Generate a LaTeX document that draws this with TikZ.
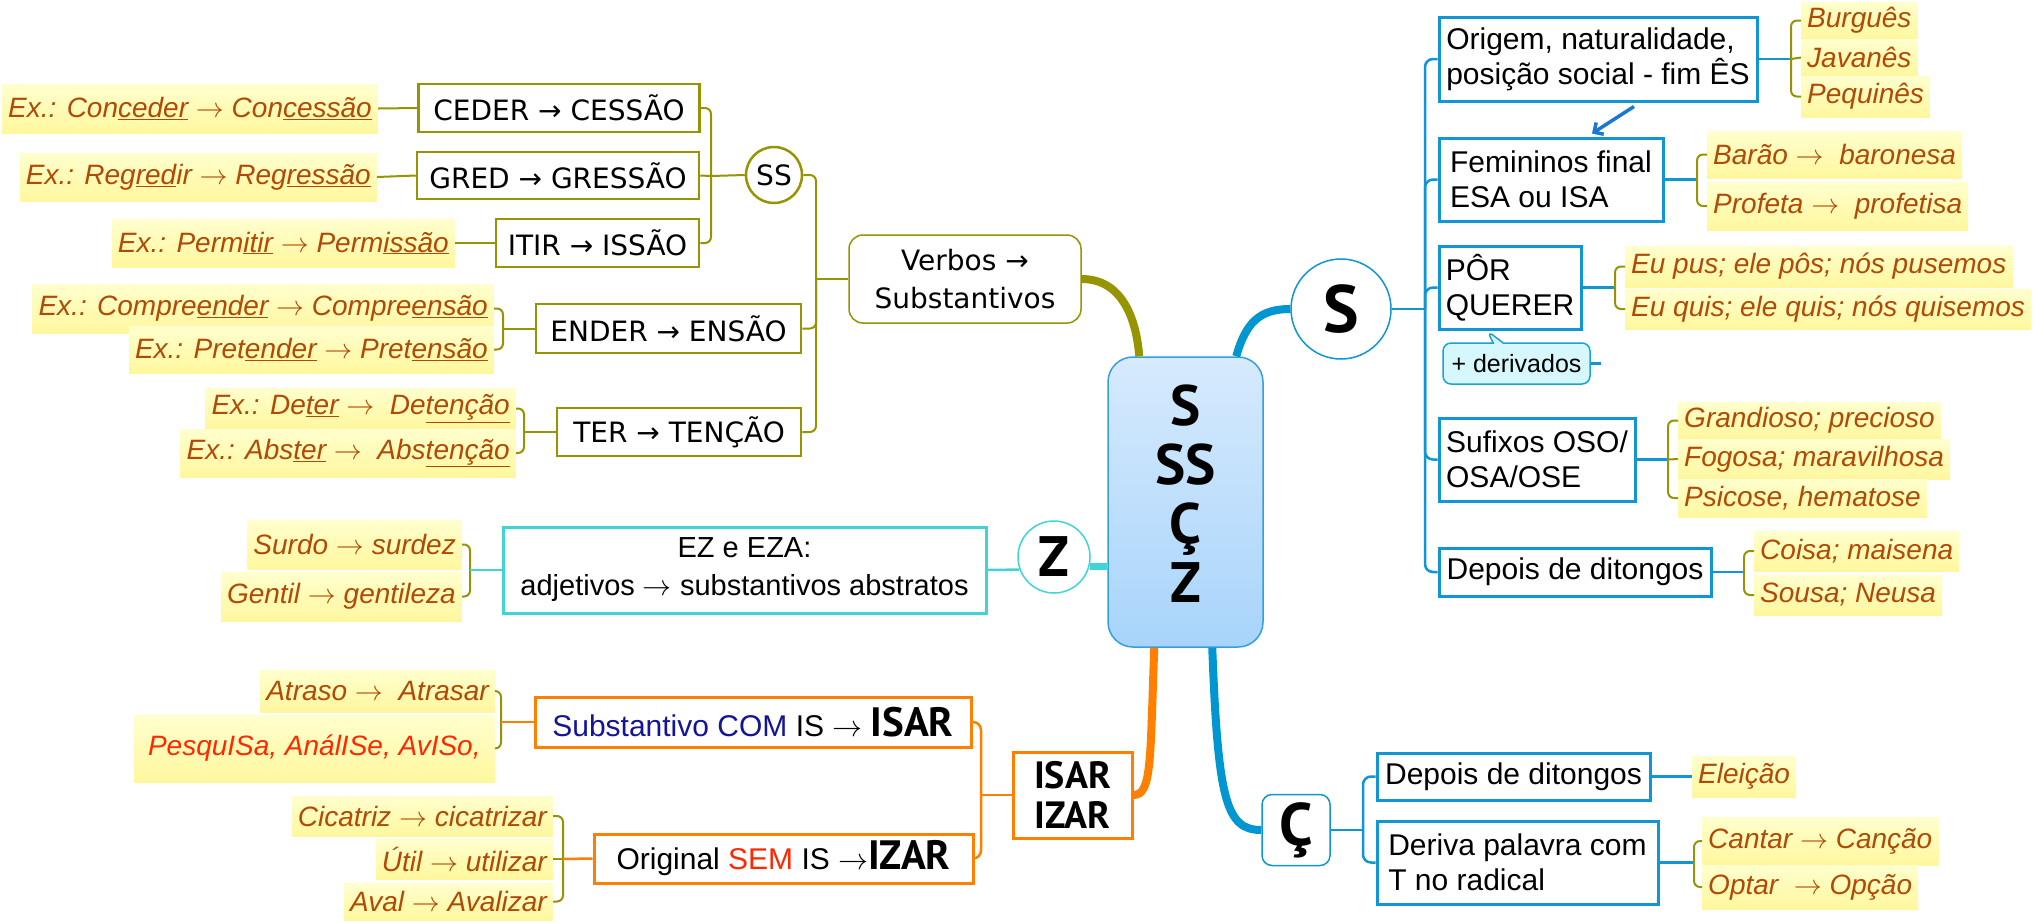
\RequirePackage{fix-cm}
\documentclass[tikz,border=0pt]{standalone}
\usepackage{fontspec}
\setmainfont{Liberation Sans}
\newfontfamily\dvs{DejaVu Sans}
\newfontfamily\pts{PT Sans}
\usetikzlibrary{arrows.meta,shapes.callouts,calc}
\definecolor{olv}{RGB}{150,148,0}
\definecolor{blu}{RGB}{16,150,210}
\definecolor{bbr}{RGB}{0,150,210}
\definecolor{cya}{RGB}{64,212,214}
\definecolor{orng}{RGB}{255,128,0}
\definecolor{exc}{RGB}{176,74,6}
\definecolor{hlt}{RGB}{255,255,206}
\definecolor{hlb}{RGB}{255,247,158}
\definecolor{redt}{RGB}{255,40,0}
\definecolor{navyt}{RGB}{20,20,150}
\definecolor{ctop}{RGB}{214,234,253}
\definecolor{cbot}{RGB}{168,212,251}
\definecolor{cbr}{RGB}{50,160,220}
\definecolor{arb}{RGB}{24,120,210}
\definecolor{derf}{RGB}{214,248,252}
\newcommand\fs[2]{\fontsize{#1}{#2}\selectfont}
\newcommand\myra{$\rightarrow$}
\begin{document}
\begin{tikzpicture}[x=1pt,y=-1pt,
  exn/.style={top color=hlt,bottom color=hlb,draw=none,text=exc,font=\fs{28}{32}\itshape,inner xsep=6pt,inner ysep=0pt,minimum height=#1},
  exn/.default=40,
  olbox/.style={draw=olv,line width=2.5pt,font=\dvs\fs{28}{34},inner sep=0pt},
  bluebox/.style={draw=blu,line width=3pt,font=\fs{30}{35},align=left,inner sep=0pt},
  orbox/.style={draw=orng,line width=3pt,font=\fs{30}{35},inner sep=0pt},
  oline/.style={olv,line width=2pt,rounded corners=6pt},
  bline/.style={blu,line width=2.5pt,rounded corners=8pt},
  orline/.style={orng,line width=2.5pt,rounded corners=8pt},
  cyline/.style={cya,line width=2.5pt},
  thick branch/.style={line width=8pt}
]
\useasboundingbox (0,0) rectangle (2042,922);
\fill[white] (0,0) rectangle (2042,922);

% ---------- central ----------
\node[draw=cbr,line width=1.5pt,rounded corners=25pt,top color=ctop,bottom color=cbot,
  minimum width=155,minimum height=290,inner sep=0pt] (ctr) at (1185.5,502)
  {\pts\bfseries\fs{57}{59}\begin{tabular}{@{}c@{}}S\\SS\\Ç\\Z\end{tabular}};

% ---------- left olive group ----------
\node[olbox,minimum width=281,minimum height=48] (ceder) at (559,108) {CEDER → CESSÃO};
\node[olbox,minimum width=282,minimum height=47] (gred) at (558,175.5) {GRED → GRESSÃO};
\node[olbox,minimum width=203,minimum height=48] (itir) at (597.5,243) {ITIR → ISSÃO};
\node[olbox,minimum width=265,minimum height=49] (ender) at (668.5,328.5) {ENDER → ENSÃO};
\node[olbox,minimum width=244,minimum height=48] (ter) at (679,432) {TER → TENÇÃO};
\node[circle,draw=olv,line width=2.5pt,minimum size=56,inner sep=0pt,font=\dvs\fs{28}{34}] (ss) at (774,175) {SS};
\node[draw=olv,line width=1.5pt,rounded corners=14pt,minimum width=232,minimum height=88,
  align=center,inner sep=0pt,font=\dvs\fs{28}{38}] (verb) at (965,279) {Verbos →\\Substantivos};

\node[exn=49,anchor=east] (exconc) at (378,108.5) {Ex.: Con\underline{ceder} \myra{} Con\underline{cessão}};
\node[exn=48,anchor=east] (exreg) at (377,177) {Ex.: Reg\underline{red}ir \myra{} Reg\underline{ressão}};
\node[exn=48,anchor=east] (experm) at (455,243) {Ex.: Perm\underline{itir} \myra{} Perm\underline{issão}};
\node[exn=49,anchor=east] (excomp) at (494,308.5) {Ex.: Compre\underline{ender} \myra{} Compre\underline{ensão}};
\node[exn=47,anchor=east] (expret) at (494,349.5) {Ex.: Pret\underline{ender} \myra{} Pret\underline{ensão}};
\node[exn=41,anchor=east] (exdet) at (516,408.5) {Ex.: De\underline{ter} \myra{} \ De\underline{tenção}};
\node[exn=48,anchor=east] (exabs) at (516,453) {Ex.: Abs\underline{ter} \myra{} \ Abs\underline{tenção}};

\coordinate (jss) at (711,176);
\coordinate (jv) at (816,279);
\coordinate (je) at (503,328.5);
\coordinate (jt) at (524,432);
\draw[oline] (ceder.east) -| (jss);
\draw[oline] (gred.east) -- (jss);
\draw[oline] (itir.east) -| (jss);
\draw[oline] (jss) -- (ss.west);
\draw[oline] (ss.east) -| (jv);
\draw[oline] (ender.east) -| (jv);
\draw[oline] (ter.east) -| (jv);
\draw[oline] (jv) -- (verb.west);
\draw[oline] (exconc.east) -- (ceder.west);
\draw[oline] (exreg.east) -- (gred.west);
\draw[oline] (experm.east) -- (itir.west);
\draw[oline] (excomp.east) -| (je) |- (expret.east);
\draw[oline] (je) -- (ender.west);
\draw[oline] (exdet.east) -| (jt) |- (exabs.east);
\draw[oline] (jt) -- (ter.west);

% ---------- Z group ----------
\node[circle,draw=cya,line width=1.5pt,minimum size=72,inner sep=0pt] (zc) at (1054,557)
  {\pts\bfseries\fs{57}{60}Z};
\node[draw=cya,line width=3pt,minimum width=483,minimum height=86,align=center,inner sep=0pt,
  font=\fs{29}{38}] (ez) at (744.5,570) {EZ e EZA:\\adjetivos \myra{} substantivos abstratos};
\node[exn=49,anchor=east] (exsur) at (462,544.5) {Surdo \myra{} surdez};
\node[exn=49,anchor=east] (exgen) at (462,596.5) {Gentil \myra{} gentileza};
\coordinate (jz) at (470,570);
\draw[oline] (exsur.east) -| (jz) |- (exgen.east);
\draw[cyline] (jz) -- (ez.west);
\draw[cyline] (ez.east) -- (zc.200);

% ---------- orange group ----------
\node[draw=orng,line width=3pt,minimum width=119,minimum height=86,align=center,inner sep=0pt,
  font=\pts\bfseries\fs{38}{40}] (isar) at (1072.5,795) {ISAR\\IZAR};
\node[orbox,minimum width=436,minimum height=50] (subs) at (753,722)
  {{\color{navyt}Substantivo COM} IS \myra{} {\pts\bfseries\fs{41}{41}ISAR}};
\node[orbox,minimum width=379,minimum height=49] (orig) at (783.5,858.5)
  {Original {\color{redt}SEM} IS \myra{\pts\bfseries\fs{41}{41}IZAR}};
\node[exn=42,anchor=east] (exatr) at (495,691) {Atraso \myra{} \ Atrasar};
\node[exn=67,anchor=east,text=redt,minimum width=361] (expesq) at (495,748.5) {PesquISa, AnálISe, AvISo,};
\node[exn=40,anchor=east] (excic) at (553,816) {Cicatriz \myra{} cicatrizar};
\node[exn=40,anchor=east] (exutil) at (553,859) {Útil \myra{} utilizar};
\node[exn=37,anchor=east] (exaval) at (553,901.5) {Aval \myra{} Avalizar};
\coordinate (jo) at (981,795);
\coordinate (ja) at (501,722);
\coordinate (jci) at (563,859);
\draw[orline] (subs.east) -| (jo);
\draw[orline] (orig.east) -| (jo);
\draw[orline] (jo) -- (isar.west);
\draw[oline] (exatr.east) -| (ja) |- (expesq.east);
\draw[orline] (ja) -- (subs.west);
\draw[oline] (excic.east) -| (jci) |- (exaval.east);
\draw[oline] (exutil.east) -- (jci);
\draw[orline] (jci) -- (orig.west);

% ---------- right S group ----------
\node[circle,draw=blu,line width=1.5pt,minimum size=100,inner sep=0pt] (sc) at (1341,309)
  {\pts\bfseries\fs{67}{70}S};
\node[bluebox,minimum width=318,minimum height=84] (orgn) at (1598,59) {Origem, naturalidade,\\posição social - fim ÊS};
\node[bluebox,minimum width=224,minimum height=83] (fem) at (1551,179.5) {Femininos final\\ESA ou ISA};
\node[bluebox,minimum width=142,minimum height=83] (por) at (1510,287.5) {PÔR\\QUERER};
\node[rectangle callout,draw=blu!80!cya,line width=1.5pt,fill=derf,rounded corners=8pt,
  minimum width=147,minimum height=41,inner sep=0pt,font=\fs{25}{30},
  callout absolute pointer={($(por.south)+(-23,0)$)},callout pointer width=10pt] (der) at (1516.5,363.5) {+ derivados};
\node[bluebox,minimum width=196,minimum height=83] (suf) at (1537,459.5) {Sufixos OSO/\\OSA/OSE};
\node[bluebox,minimum width=272,minimum height=48] (dep1) at (1575,572) {Depois de ditongos};

\node[exn=37,anchor=west] (exbur) at (1801,20.5) {Burguês};
\node[exn=37,anchor=west] (exjav) at (1801,57.5) {Javanês};
\node[exn=41,anchor=west] (expeq) at (1801,96.5) {Pequinês};
\node[exn=47,anchor=west] (exbar) at (1707,154.5) {Barão \myra{} \ baronesa};
\node[exn=48,anchor=west] (expro) at (1707,206) {Profeta \myra{} \ profetisa};
\node[exn=41,anchor=west] (expus) at (1625,266.5) {Eu pus; ele pôs; nós pusemos};
\node[exn=40,anchor=west] (exqui) at (1625,309) {Eu quis; ele quis; nós quisemos};
\node[exn=37,anchor=west] (exgra) at (1678,420.5) {Grandioso; precioso};
\node[exn=40,anchor=west] (exfog) at (1678,459) {Fogosa; maravilhosa};
\node[exn=38,anchor=west] (expsi) at (1678,498) {Psicose, hematose};
\node[exn=40,anchor=west] (excoi) at (1754,551) {Coisa; maisena};
\node[exn=40,anchor=west] (exsou) at (1754,595) {Sousa; Neusa};

\coordinate (js) at (1425,309);
\coordinate (jor) at (1791,59);
\coordinate (jfe) at (1697,179.5);
\coordinate (jpo) at (1615,287.5);
\coordinate (jsu) at (1668,459.5);
\coordinate (jde) at (1744,572);
\draw[bline] (sc.east) -- (js);
\draw[bline] (js) |- (orgn.west);
\draw[bline] (js) |- (fem.west);
\draw[bline] (js) |- (por.west);
\draw[bline] (js) |- (suf.west);
\draw[bline] (js) |- (dep1.west);
\draw[bline] (der.east) -- ++(10,0);
\draw[bline] (orgn.east) -- (jor);
\draw[bline] (fem.east) -- (jfe);
\draw[bline] (por.east) -- (jpo);
\draw[bline] (suf.east) -- (jsu);
\draw[bline] (dep1.east) -- (jde);
\draw[oline] (exbur.west) -| (jor) |- (expeq.west);
\draw[oline] (jor) -- (exjav.west);
\draw[oline] (exbar.west) -| (jfe) |- (expro.west);
\draw[oline] (expus.west) -| (jpo) |- (exqui.west);
\draw[oline] (exgra.west) -| (jsu) |- (expsi.west);
\draw[oline] (jsu) -- (exfog.west);
\draw[oline] (excoi.west) -| (jde) |- (exsou.west);
\draw[arb,line width=3.5pt,-{Straight Barb[length=7pt,width=14pt]}]
  ($(orgn.south)+(36,4)$) -- ($(fem.north)+(41,-3)$);

% ---------- Ç group ----------
\node[draw=blu,line width=1.5pt,rounded corners=10pt,minimum width=68,minimum height=71,inner sep=0pt]
  (cbox) at (1296,830) {\pts\bfseries\fs{60}{60}Ç};
\node[bluebox,minimum width=273,minimum height=47] (dep2) at (1513.5,776.5) {Depois de ditongos};
\node[bluebox,minimum width=281,minimum height=83] (deriva) at (1517.5,862.5) {Deriva palavra com\\T no radical};
\node[exn=41,anchor=west] (exele) at (1692,776.5) {Eleição};
\node[exn=48,anchor=west] (excan) at (1702,841) {Cantar \myra{} Canção};
\node[exn=44,anchor=west] (exopt) at (1702,887) {Optar \ \myra{} Opção};
\coordinate (jc) at (1363,830);
\coordinate (jca) at (1694,862.5);
\draw[bline] (cbox.east) -- (jc);
\draw[bline] (jc) |- (dep2.west);
\draw[bline] (jc) |- (deriva.west);
\draw[bline] (dep2.east) -- (exele.west);
\draw[bline] (deriva.east) -- (jca);
\draw[oline] (excan.west) -| (jca) |- (exopt.west);

% ---------- thick branches ----------
\draw[olv,thick branch] (verb.east) .. controls (1120,279) and (1136,315) .. ($(ctr.north west)+(32,0)$);
\draw[bbr,thick branch] ($(ctr.north west)+(129,0)$) .. controls (1246,322) and (1260,309) .. (sc.west);
\draw[cya,line width=7pt] (zc.-15) -- (zc.-15 -| ctr.west);
\draw[orng,thick branch] ($(ctr.south west)+(47,0)$) .. controls (1150,760) and (1152,795) .. (isar.east);
\draw[bbr,thick branch] ($(ctr.south west)+(105,0)$) .. controls (1218,800) and (1226,830) .. (cbox.west);
\end{tikzpicture}
\end{document}
